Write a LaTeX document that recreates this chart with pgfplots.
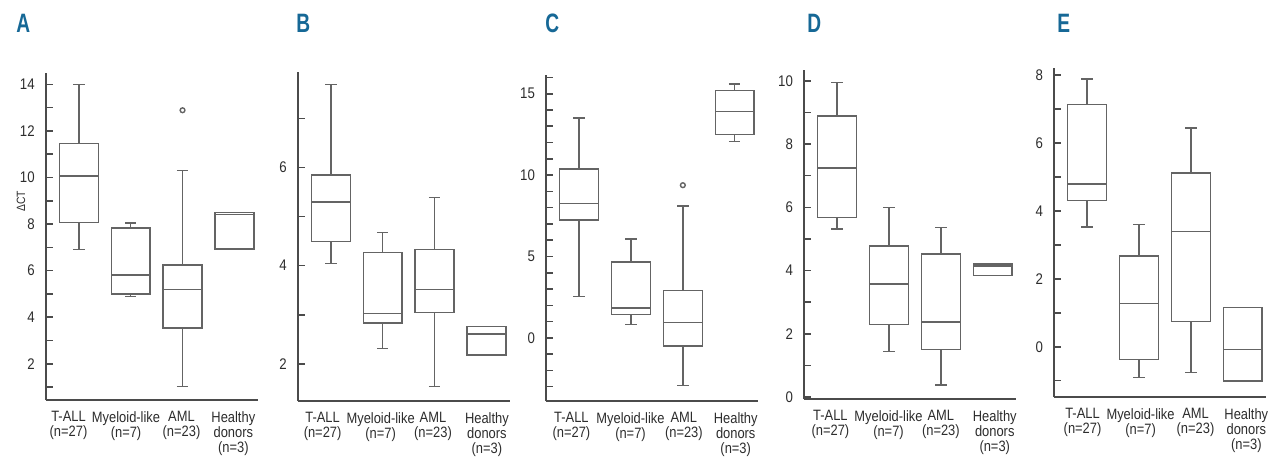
\documentclass[border=0pt]{standalone}
\usepackage{fontspec}
\setmainfont[FakeStretch=0.86]{Liberation Sans}
\newfontfamily\letterfont[FakeStretch=0.72]{Liberation Sans}
\usepackage{pgfplots}
\pgfplotsset{compat=1.18}
\usepgfplotslibrary{statistics}
\definecolor{boxgray}{RGB}{100,100,100}
\definecolor{axgray}{RGB}{75,75,75}
\definecolor{txtgray}{RGB}{45,45,45}
\definecolor{letterblue}{RGB}{22,104,150}

\pgfplotsset{
 panel/.style={
  scale only axis, width=106pt, anchor=south west,
  xmin=0.36, xmax=4.45,
  axis lines=left, axis line style={-, draw=axgray, line width=0.9pt},
  xtick={0.85,1.97,3.0,4.02},
  xticklabels={{T-ALL\\(n=27)},{Myeloid-like\\(n=7)},{AML\\(n=23)},{Healthy\\donors\\(n=3)}},
  xticklabel style={align=center, anchor=north, font=\fontsize{7.5}{7.4}\selectfont, text=txtgray, yshift=-2.3pt},
  x tick style={draw=none},
  tick align=inside,
  major tick length=3.5pt, minor tick length=3.5pt,
  y tick style={draw=axgray, line width=0.8pt},
  yticklabel style={font=\fontsize{7.7}{8}\selectfont, text=txtgray, xshift=-2pt},
  /pgf/number format/assume math mode=true,
  clip=false,
  boxplot/draw direction=y,
  boxplot/box extend=0.75,
  boxplot/whisker extend=0.22,
 },
 bx/.style={draw=boxgray, line width=0.7pt, solid, mark=o, mark size=1.2pt, mark options={draw=boxgray, fill=gray!40, line width=0.7pt}},
}
\newcommand\bxp[6]{\addplot[bx, boxplot prepared={draw position=#1, lower whisker=#2, lower quartile=#3, median=#4, upper quartile=#5, upper whisker=#6}] coordinates {};}

\begin{document}
\begin{tikzpicture}
\useasboundingbox (0,0) rectangle (636pt,-228pt);
\fill[white] (0,0) rectangle (636pt,-228pt);

% Panel A
\begin{axis}[panel, at={(22.85pt,-200pt)}, height=163.5pt,
  xtick={0.80,1.91,2.98,3.98},
  ymin=0.44, ymax=14.49, ytick={2,4,...,14}, minor ytick={1,...,14},
  ylabel={ΔCT}, ylabel style={at={(axis description cs:-0.1165,0.608)}, anchor=center, font=\fontsize{6}{7}\selectfont, text=txtgray}]
\bxp{1}{6.9}{8.06}{10.07}{11.45}{14.0}
\bxp{2}{4.9}{4.99}{5.81}{7.83}{8.04}
\addplot[bx, boxplot prepared={draw position=3, lower whisker=1.03, lower quartile=3.54, median=5.19, upper quartile=6.24, upper whisker=10.31}] table[row sep=\\, y index=0] {y\\12.89\\};
\bxp{4}{6.93}{6.93}{8.42}{8.5}{8.5}
\end{axis}

% Panel B
\begin{axis}[panel, at={(148.85pt,-200.5pt)}, height=164.5pt,
  xtick={0.84,1.96,2.97,4.01},
  ymin=1.24, ymax=7.95, ytick={2,4,6}, minor ytick={2,...,7}]
\bxp{1}{4.05}{4.49}{5.30}{5.85}{7.70}
\bxp{2}{2.31}{2.83}{3.02}{4.27}{4.68}
\bxp{3}{1.53}{3.05}{3.51}{4.33}{5.39}
\bxp{4}{2.18}{2.18}{2.61}{2.76}{2.76}
\end{axis}

% Panel C
\begin{axis}[panel, at={(273pt,-200.5pt)}, height=163pt,
  xtick={0.85,1.99,3.02,4.02},
  ymin=-3.88, ymax=16.15, ytick={0,5,10,15}, minor ytick={-3,...,16}]
\bxp{1}{2.55}{7.23}{8.25}{10.38}{13.51}
\bxp{2}{0.82}{1.43}{1.84}{4.67}{6.08}
\addplot[bx, boxplot prepared={draw position=3, lower whisker=-2.92, lower quartile=-0.51, median=0.96, upper quartile=2.90, upper whisker=8.11}] table[row sep=\\, y index=0] {y\\9.38\\};
\bxp{4}{12.08}{12.5}{13.92}{15.2}{15.59}
\end{axis}

% Panel D
\begin{axis}[panel, at={(402pt,-199.5pt)}, height=164.5pt,
  xtick={0.87,1.99,3.0,4.04},
  ymin=-0.06, ymax=10.34, ytick={0,2,...,10}, minor ytick={0,...,10}]
\bxp{1}{5.31}{5.68}{7.24}{8.89}{9.94}
\bxp{2}{1.44}{2.30}{3.58}{4.78}{5.99}
\bxp{3}{0.38}{1.50}{2.38}{4.52}{5.36}
\bxp{4}{3.84}{3.84}{4.14}{4.21}{4.21}
\end{axis}

% Panel E
\begin{axis}[panel, at={(527pt,-198.5pt)}, height=164.5pt,
  xtick={0.91,2.03,3.09,4.07},
  ymin=-1.48, ymax=8.20, ytick={0,2,...,8}, minor ytick={-1,...,8}]
\bxp{1}{3.52}{4.30}{4.79}{7.13}{7.88}
\bxp{2}{-0.91}{-0.37}{1.28}{2.67}{3.60}
\bxp{3}{-0.75}{0.75}{3.39}{5.11}{6.43}
\bxp{4}{-1.01}{-1.01}{-0.08}{1.16}{1.16}
\end{axis}

\foreach \L/\xx in {A/16,B/296,C/545,D/807,E/1057}
  \node[anchor=base west, inner sep=0pt, font=\letterfont\bfseries\fontsize{13.3}{14}\selectfont, text=letterblue] at (\xx*0.5pt,-16pt) {\L};
\end{tikzpicture}
\end{document}
